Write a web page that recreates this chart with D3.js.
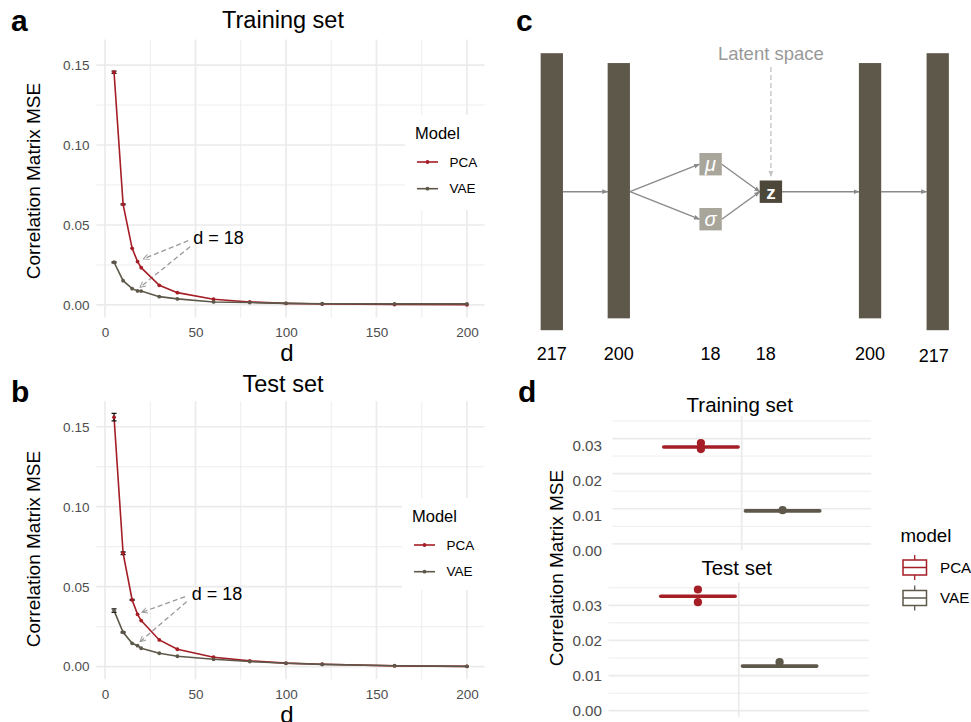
<!DOCTYPE html>
<html>
<head>
<meta charset="utf-8">
<script src="https://cdn.jsdelivr.net/npm/d3@7"></script>
<style>
  body { margin: 0; background: #fff; }
  svg { display: block; font-family: "Liberation Sans", Arial, sans-serif; }
</style>
</head>
<body>
<svg id="fig" width="971" height="722"></svg>
<script>
// ---- data ----
const dValues  = [5, 10, 15, 18, 20, 30, 40, 60, 80, 100, 120, 160, 200];
const pcaTrain = [0.1455, 0.0629, 0.0354, 0.0271, 0.0233, 0.0123, 0.0077, 0.0036, 0.0019, 0.0010, 0.0006, 0.0003, 0.0001];
const vaeTrain = [0.0267, 0.0152, 0.0102, 0.0088, 0.0087, 0.0052, 0.0038, 0.0019, 0.0015, 0.0010, 0.0008, 0.0007, 0.0007];
const pcaTest  = [0.1560, 0.0709, 0.0417, 0.0327, 0.0288, 0.0167, 0.0109, 0.0059, 0.0036, 0.0022, 0.0015, 0.0005, 0.0002];
const vaeTest  = [0.0350, 0.0215, 0.0146, 0.0131, 0.0115, 0.0084, 0.0065, 0.0046, 0.0032, 0.0021, 0.0014, 0.0006, 0.0002];
const pcaTrainSd = [0.0007, 0.0003, 0, 0, 0, 0, 0, 0, 0, 0, 0, 0, 0];
const vaeTrainSd = [0.0003, 0, 0, 0, 0, 0, 0, 0, 0, 0, 0, 0, 0];
const pcaTestSd  = [0.0024, 0.0008, 0.0003, 0, 0, 0, 0, 0, 0, 0, 0, 0, 0];
const vaeTestSd  = [0.0011, 0.0003, 0, 0, 0, 0, 0, 0, 0, 0, 0, 0, 0];
const xTicks = [0, 50, 100, 150, 200];
const xMinor = [25, 75, 125, 175];
const yTicks = [0, 0.05, 0.10, 0.15];
const yMinor = [0.025, 0.075, 0.125];
const models = ["PCA", "VAE"];

// network sketch (panel c)
const layerSizes = [217, 200, 18, 18, 200, 217];
const layerSlots = [0, 1, 2.37, 3.27, 4.75, 5.76];

// boxplots at d = 18 (panel d): [lower whisker, q1, median, q3, upper whisker]
const boxTrainPCA = [0.02755, 0.02757, 0.0276, 0.02763, 0.02765];
const boxTrainVAE = [0.00935, 0.00937, 0.0094, 0.00943, 0.00945];
const boxTestPCA  = [0.03255, 0.03257, 0.0326, 0.03263, 0.03265];
const boxTestVAE  = [0.0122, 0.01267, 0.0127, 0.01273, 0.01275];
const outTrainPCA = [0.0287, 0.0270];
const outTrainVAE = [0.0096];
const outTestPCA  = [0.0345, 0.0309];
const outTestVAE  = [0.0138];
const boxTicks = [0, 0.01, 0.02, 0.03];
const boxMinor = [0.005, 0.015, 0.025, 0.035];

const colors = { PCA: "#a51d25", VAE: "#5d584a" };
const grid = "#ebebeb";
const tickCol = "#4d4d4d";

const svg = d3.select("#fig");

const defs = svg.append("defs");
defs.append("marker").attr("id", "openHead")
  .attr("viewBox", "0 0 10 10").attr("refX", 9).attr("refY", 5)
  .attr("markerWidth", 7).attr("markerHeight", 7).attr("orient", "auto-start-reverse")
  .attr("markerUnits", "userSpaceOnUse")
  .append("path").attr("d", "M1,1 L9,5 L1,9").attr("fill", "none")
  .attr("stroke", "#999").attr("stroke-width", 1.3);
defs.append("marker").attr("id", "solidHead")
  .attr("viewBox", "0 0 10 10").attr("refX", 9).attr("refY", 5)
  .attr("markerWidth", 6).attr("markerHeight", 6).attr("orient", "auto")
  .attr("markerUnits", "userSpaceOnUse")
  .append("path").attr("d", "M0,1 L10,5 L0,9 Z").attr("fill", "#8a8a8a");
defs.append("marker").attr("id", "paleHead")
  .attr("viewBox", "0 0 10 10").attr("refX", 9).attr("refY", 5)
  .attr("markerWidth", 6).attr("markerHeight", 6).attr("orient", "auto")
  .attr("markerUnits", "userSpaceOnUse")
  .append("path").attr("d", "M0,1 L10,5 L0,9 Z").attr("fill", "#c4c4c4");

function panelLetter(txt, x, y) {
  svg.append("text").attr("x", x).attr("y", y).text(txt)
    .attr("font-size", 30).attr("font-weight", "bold");
}

// ---- panels a and b ----
function linePanel(cfg) {
  const g = svg.append("g");
  const x = d3.scaleLinear().domain([-4.75, 209.75]).range([96.4, 484.6]);
  const y = d3.scaleLinear().domain([-0.0079, 0.1659]).range(cfg.yRange);
  const [x0, x1] = x.range();
  const [yb, yt] = y.range();

  g.selectAll(".vmin").data(xMinor).join("line")
    .attr("x1", d => x(d)).attr("x2", d => x(d)).attr("y1", yt).attr("y2", yb)
    .attr("stroke", grid).attr("stroke-width", 0.9);
  g.selectAll(".hmin").data(yMinor).join("line")
    .attr("x1", x0).attr("x2", x1).attr("y1", d => y(d)).attr("y2", d => y(d))
    .attr("stroke", grid).attr("stroke-width", 0.9);
  g.selectAll(".vmaj").data(xTicks).join("line")
    .attr("x1", d => x(d)).attr("x2", d => x(d)).attr("y1", yt).attr("y2", yb)
    .attr("stroke", grid).attr("stroke-width", 1.7);
  g.selectAll(".hmaj").data(yTicks).join("line")
    .attr("x1", x0).attr("x2", x1).attr("y1", d => y(d)).attr("y2", d => y(d))
    .attr("stroke", grid).attr("stroke-width", 1.7);

  // axes (labels only, ggplot minimal look)
  const xa = g.append("g").attr("transform", `translate(0,${yb + 2})`)
    .call(d3.axisBottom(x).tickValues(xTicks).tickSize(0).tickPadding(8));
  const ya = g.append("g").attr("transform", `translate(${x0 - 4},0)`)
    .call(d3.axisLeft(y).tickValues(yTicks).tickSize(0).tickPadding(3).tickFormat(d3.format(".2f")));
  [xa, ya].forEach(a => {
    a.select(".domain").remove();
    a.selectAll("text").attr("fill", tickCol).attr("font-size", 13.5)
      .attr("font-family", "Liberation Sans, Arial, sans-serif");
  });

  g.append("text").attr("x", 287).attr("y", yb + 43.5).attr("text-anchor", "middle")
    .attr("font-size", 24).text("d");
  g.append("text").attr("transform", `translate(40,${cfg.ylabY}) rotate(-90)`)
    .attr("text-anchor", "middle").attr("font-size", 19).text("Correlation Matrix MSE");
  g.append("text").attr("x", 283).attr("y", cfg.titleY).attr("text-anchor", "middle")
    .attr("font-size", 23.5).text(cfg.title);

  // annotation arrows
  const an = cfg.annot;
  an.arrows.forEach(a => {
    g.append("line")
      .attr("x1", x(a[0])).attr("y1", y(a[1])).attr("x2", x(a[2])).attr("y2", y(a[3]))
      .attr("stroke", "#999").attr("stroke-width", 1.3).attr("stroke-dasharray", "5,3")
      .attr("marker-end", "url(#openHead)");
  });
  g.append("text").attr("x", x(an.x)).attr("y", y(an.y)).attr("dy", "0.35em")
    .attr("font-size", 18).text("d = 18");

  // series
  const line = d3.line().x(d => x(d.d)).y(d => y(d.v));
  cfg.series.forEach(s => {
    const pts = dValues.map((d, i) => ({ d, v: s.values[i], sd: s.sd[i] }));
    g.append("path").datum(pts).attr("d", line).attr("fill", "none")
      .attr("stroke", colors[s.model]).attr("stroke-width", 1.6);
    g.selectAll(null).data(pts.filter(p => p.sd > 0)).join("path")
      .attr("d", p => {
        const cx = x(p.d), a = y(p.v + p.sd), b = y(p.v - p.sd);
        return `M${cx - 2.5},${a}H${cx + 2.5}M${cx},${a}V${b}M${cx - 2.5},${b}H${cx + 2.5}`;
      })
      .attr("stroke", "#111").attr("stroke-width", 1.3).attr("fill", "none");
    g.selectAll(null).data(pts).join("circle")
      .attr("cx", p => x(p.d)).attr("cy", p => y(p.v)).attr("r", 1.9)
      .attr("fill", colors[s.model]);
  });

  // legend
  const L = cfg.legend;
  g.append("rect").attr("x", L.x).attr("y", L.y).attr("width", L.w).attr("height", L.h).attr("fill", "#fff");
  g.append("text").attr("x", L.x + 10).attr("y", L.y + 18).attr("dy", "0.35em")
    .attr("font-size", 16.5).text("Model");
  models.forEach((m, i) => {
    const ky = L.y + 47 + i * 26.7;
    g.append("line").attr("x1", L.x + 12).attr("x2", L.x + 33).attr("y1", ky).attr("y2", ky)
      .attr("stroke", colors[m]).attr("stroke-width", 1.6);
    g.append("circle").attr("cx", L.x + 22.5).attr("cy", ky).attr("r", 1.9).attr("fill", colors[m]);
    g.append("text").attr("x", L.x + 44.5).attr("y", ky).attr("dy", "0.35em")
      .attr("font-size", 13.5).text(m);
  });
}

panelLetter("a", 11, 31);
linePanel({
  title: "Training set", titleY: 28, yRange: [317.6, 39.6], ylabY: 181,
  series: [
    { model: "PCA", values: pcaTrain, sd: pcaTrainSd },
    { model: "VAE", values: vaeTrain, sd: vaeTrainSd }
  ],
  annot: { x: 48.8, y: 0.042, arrows: [[46, 0.0402, 21.2, 0.0288], [47, 0.0364, 19.3, 0.0110]] },
  legend: { x: 405, y: 115, w: 82, h: 95 }
});

panelLetter("b", 11, 402);
linePanel({
  title: "Test set", titleY: 392, yRange: [679.3, 401.3], ylabY: 549,
  series: [
    { model: "PCA", values: pcaTest, sd: pcaTestSd },
    { model: "VAE", values: vaeTest, sd: vaeTestSd }
  ],
  annot: { x: 47.9, y: 0.0459, arrows: [[44.2, 0.0437, 20.3, 0.0340], [45.1, 0.0406, 19.3, 0.0156]] },
  legend: { x: 402, y: 498, w: 84, h: 92 }
});

// ---- panel c: network sketch ----
panelLetter("c", 516, 31);
(function () {
  const g = svg.append("g");
  const sx = d3.scaleLinear().domain([0, 1]).range([551.8, 618.8]);
  const hScale = d3.scaleLinear().domain([0, 217]).range([0, 277]);
  const cy = 191.7;
  const barW = 22.3, box = 22.4, spread = 27.5;
  const layers = layerSizes.map((s, i) => ({ size: s, cx: sx(layerSlots[i]), i }));
  const bars = layers.filter(l => l.size > 100);
  const fill = "#5d584a";

  function arrow(x1, y1, x2, y2) {
    g.append("line").attr("x1", x1).attr("y1", y1).attr("x2", x2).attr("y2", y2)
      .attr("stroke", "#8a8a8a").attr("stroke-width", 1.4).attr("marker-end", "url(#solidHead)");
  }
  const L = layers;
  // arrows first so boxes sit above them
  arrow(L[0].cx + barW / 2, cy, L[1].cx - barW / 2, cy);
  arrow(L[1].cx + barW / 2, cy, L[2].cx - box / 2, cy - spread);
  arrow(L[1].cx + barW / 2, cy, L[2].cx - box / 2, cy + spread);
  arrow(L[2].cx + box / 2, cy - spread, L[3].cx - box / 2, cy);
  arrow(L[2].cx + box / 2, cy + spread, L[3].cx - box / 2, cy);
  arrow(L[3].cx + box / 2, cy, L[4].cx - barW / 2, cy);
  arrow(L[4].cx + barW / 2, cy, L[5].cx - barW / 2, cy);

  g.selectAll(".bar").data(bars).join("rect")
    .attr("x", d => d.cx - barW / 2).attr("width", barW)
    .attr("y", d => cy - hScale(d.size) / 2 + (d.i === 0 || d.i === 5 ? 0 : -1))
    .attr("height", d => hScale(d.size)).attr("fill", fill);

  // mu / sigma
  [["\u03bc", -spread], ["\u03c3", spread]].forEach(([t, off]) => {
    g.append("rect").attr("x", L[2].cx - box / 2).attr("y", cy + off - box / 2)
      .attr("width", box).attr("height", box).attr("fill", "#a8a59b");
    g.append("text").attr("x", L[2].cx).attr("y", cy + off).attr("dy", "0.33em")
      .attr("text-anchor", "middle").attr("font-style", "italic").attr("font-size", 20)
      .attr("fill", "#fff").text(t);
  });
  // z
  g.append("rect").attr("x", L[3].cx - box / 2).attr("y", cy - box / 2)
    .attr("width", box).attr("height", box).attr("fill", "#4d4739");
  g.append("text").attr("x", L[3].cx).attr("y", cy).attr("dy", "0.36em")
    .attr("text-anchor", "middle").attr("font-weight", "bold").attr("font-size", 19)
    .attr("fill", "#fff").text("z");

  // latent space pointer
  g.append("line").attr("x1", L[3].cx).attr("x2", L[3].cx).attr("y1", 67).attr("y2", cy - box / 2 - 4)
    .attr("stroke", "#c4c4c4").attr("stroke-width", 1.3).attr("stroke-dasharray", "5,3")
    .attr("marker-end", "url(#paleHead)");
  g.append("text").attr("x", L[3].cx).attr("y", 60).attr("text-anchor", "middle")
    .attr("font-size", 18.5).attr("fill", "#999").text("Latent space");

  g.selectAll(".lab").data(layers).join("text")
    .attr("x", d => d.cx - (d.i === 5 ? 4 : 0) - (d.i === 3 ? 5 : 0))
    .attr("y", d => (d.i === 5 ? 361.5 : 360))
    .attr("text-anchor", "middle").attr("font-size", 18).text(d => d.size);
})();

// ---- panel d: boxplots ----
panelLetter("d", 518, 402);
function boxFacet(cfg) {
  const g = svg.append("g");
  const y = d3.scaleLinear().domain([-0.00174, 0.0365]).range(cfg.yRange);
  const [yb, yt] = y.range();
  const cat = d3.scaleBand().domain(["d = 18"]).range(cfg.xRange);
  const c = cat(cfg.cat) + cat.bandwidth() / 2;
  const xm = d3.scaleBand().domain(models).range([c - 78, c + 78]).paddingInner(0.09);

  g.selectAll(".hmin").data(boxMinor).join("line")
    .attr("x1", cfg.xRange[0]).attr("x2", cfg.xRange[1]).attr("y1", d => y(d)).attr("y2", d => y(d))
    .attr("stroke", grid).attr("stroke-width", 0.9);
  g.selectAll(".hmaj").data(boxTicks).join("line")
    .attr("x1", cfg.xRange[0]).attr("x2", cfg.xRange[1]).attr("y1", d => y(d)).attr("y2", d => y(d))
    .attr("stroke", grid).attr("stroke-width", 1.7);
  g.append("line").attr("x1", c).attr("x2", c).attr("y1", yt).attr("y2", yb)
    .attr("stroke", grid).attr("stroke-width", 1.7);

  const ya = g.append("g").attr("transform", `translate(604,${cfg.labelShift})`)
    .call(d3.axisLeft(y).tickValues(boxTicks).tickSize(0).tickPadding(2).tickFormat(d3.format(".2f")));
  ya.select(".domain").remove();
  ya.selectAll("text").attr("fill", tickCol).attr("font-size", 15.2)
    .attr("font-family", "Liberation Sans, Arial, sans-serif");

  g.append("text").attr("x", c - 2).attr("y", cfg.titleY).attr("dy", "0.35em")
    .attr("text-anchor", "middle").attr("font-size", 20.5).text(cfg.title);

  cfg.boxes.forEach((b, i) => {
    const m = models[i];
    const x0 = xm(m), w = xm.bandwidth(), cx = x0 + w / 2;
    const col = colors[m];
    g.append("line").attr("x1", cx).attr("x2", cx).attr("y1", y(b[4])).attr("y2", y(b[3]))
      .attr("stroke", col).attr("stroke-width", 1.5);
    g.append("line").attr("x1", cx).attr("x2", cx).attr("y1", y(b[1])).attr("y2", y(b[0]))
      .attr("stroke", col).attr("stroke-width", 1.5);
    g.append("rect").attr("x", x0).attr("width", w).attr("y", y(b[3]))
      .attr("height", Math.max(0.1, y(b[1]) - y(b[3])))
      .attr("fill", "#fff").attr("stroke", col).attr("stroke-width", 1.5);
    g.append("line").attr("x1", x0).attr("x2", x0 + w).attr("y1", y(b[2])).attr("y2", y(b[2]))
      .attr("stroke", col).attr("stroke-width", 3.6).attr("stroke-linecap", "round");
    g.selectAll(null).data(cfg.outliers[i]).join("circle")
      .attr("cx", cx).attr("cy", d => y(d)).attr("r", 4.1).attr("fill", col);
  });
}

boxFacet({
  title: "Training set", titleY: 405, cat: "d = 18",
  yRange: [550, 415.7], xRange: [612.5, 871], labelShift: 7,
  boxes: [boxTrainPCA, boxTrainVAE], outliers: [outTrainPCA, outTrainVAE]
});
boxFacet({
  title: "Test set", titleY: 568, cat: "d = 18",
  yRange: [716.8, 582.5], xRange: [608.5, 869], labelShift: 0,
  boxes: [boxTestPCA, boxTestVAE], outliers: [outTestPCA, outTestVAE]
});

svg.append("text").attr("transform", "translate(563,568) rotate(-90)")
  .attr("text-anchor", "middle").attr("font-size", 19).text("Correlation Matrix MSE");

// legend for d
(function () {
  const g = svg.append("g");
  g.append("text").attr("x", 900.5).attr("y", 535).attr("dy", "0.35em")
    .attr("font-size", 18.7).text("model");
  models.forEach((m, i) => {
    const ky = 567.5 + i * 30.5;
    const col = colors[m];
    g.append("line").attr("x1", 914.7).attr("x2", 914.7).attr("y1", ky - 12.5).attr("y2", ky + 12.5)
      .attr("stroke", col).attr("stroke-width", 1.3);
    g.append("rect").attr("x", 903).attr("y", ky - 7.5).attr("width", 23.5).attr("height", 15)
      .attr("fill", "#fff").attr("stroke", col).attr("stroke-width", 1.5);
    g.append("line").attr("x1", 903).attr("x2", 926.5).attr("y1", ky).attr("y2", ky)
      .attr("stroke", col).attr("stroke-width", 1.5);
    g.append("text").attr("x", 940).attr("y", ky).attr("dy", "0.35em")
      .attr("font-size", 15.2).text(m);
  });
})();
</script>
</body>
</html>
